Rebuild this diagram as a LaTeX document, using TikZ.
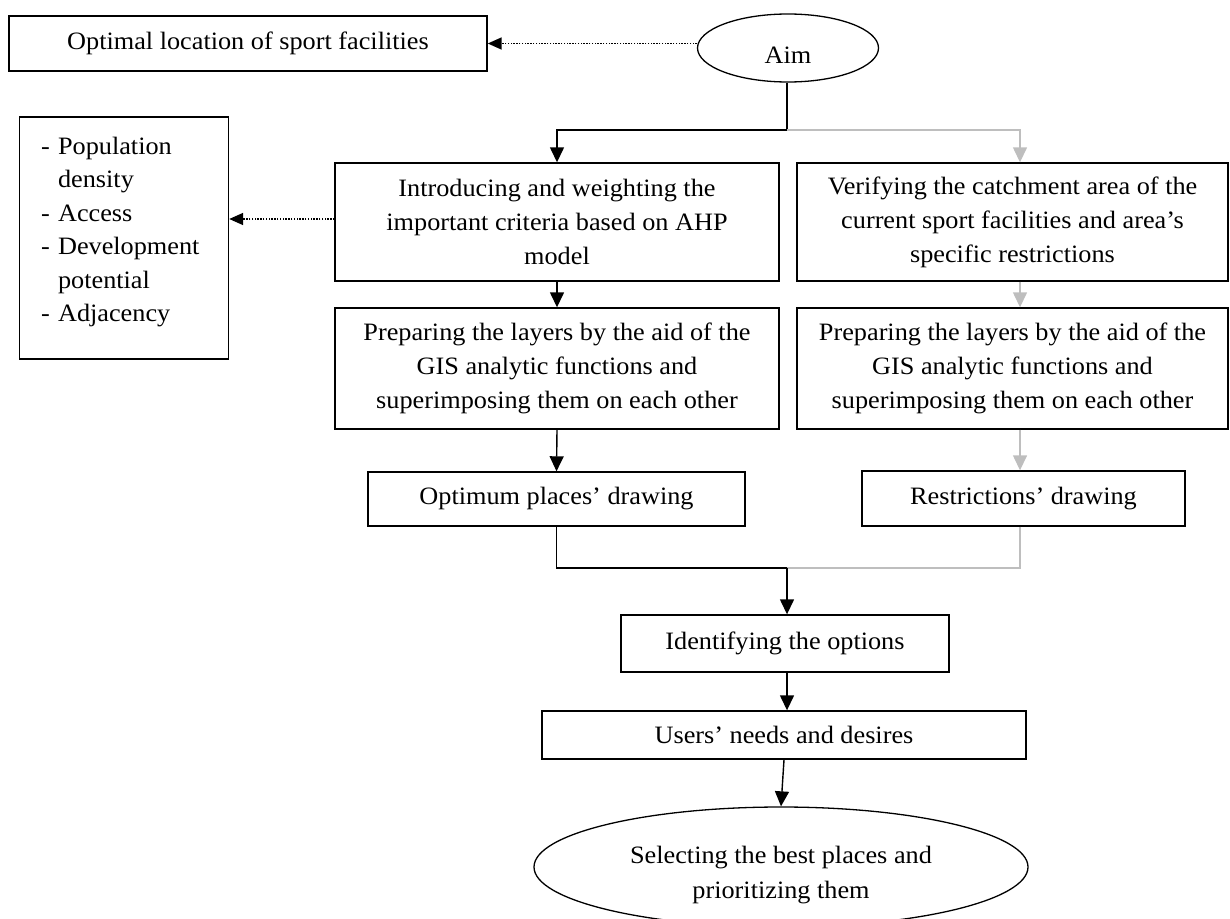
\documentclass[tikz,border=0pt]{standalone}
\usepackage{fontspec}
\setmainfont{Liberation Serif}[FakeStretch=1.05]
\usetikzlibrary{arrows.meta,shapes.geometric}
\definecolor{lgray}{RGB}{190,190,190}
\begin{document}
\begin{tikzpicture}[x=1pt,y=-1pt,
  box/.style={draw, line width=1.4pt, inner sep=0pt, align=center, font=\fontsize{25}{34}\selectfont},
  oval/.style={draw, ellipse, line width=1.3pt, inner sep=0pt, align=center, font=\fontsize{25}{35}\selectfont},
  arr/.style={-{Triangle[length=15pt,width=14pt]}, line width=1.4pt},
  garr/.style={arr, color=lgray},
  dotarr/.style={-{Triangle[length=14pt,width=12pt]}, line width=1.6pt, dash pattern=on 1.4pt off 1.4pt},
  lin/.style={line width=1.4pt}
]
\useasboundingbox (0,0) rectangle (1230,918);
\node[box, minimum width=478, minimum height=55] (opt) at (248,43.5) {Optimal location of sport facilities};
\node[oval, minimum width=181, minimum height=68, text height=31pt, text depth=0pt] (aim) at (788,48) {Aim};
\node[box, minimum width=209, minimum height=242, text width=166, align=left, font=\fontsize{25}{33.5}\selectfont] (list) at (124,238)
 {- Population\\\phantom{- }density\\- Access\\- Development\\\phantom{- }potential\\- Adjacency\rule[-17pt]{0pt}{17pt}};
\node[box, minimum width=444, minimum height=118] (a1) at (557,222) {Introducing and weighting the\\important criteria based on AHP\\model};
\node[box, minimum width=431, minimum height=118] (b1) at (1012.5,222) {Verifying the catchment area of the\\current sport facilities and area’s\\specific restrictions};
\node[box, minimum width=444, minimum height=121] (a2) at (557,368.5) {Preparing the layers by the aid of the\\GIS analytic functions and\\superimposing them on each other};
\node[box, minimum width=431, minimum height=121] (b2) at (1012.5,368.5) {Preparing the layers by the aid of the\\GIS analytic functions and\\superimposing them on each other};
\node[box, minimum width=377, minimum height=54] (a3) at (556.5,499) {Optimum places’ drawing};
\node[box, minimum width=323, minimum height=55] (b3) at (1023.5,498.5) {Restrictions’ drawing};
\node[box, minimum width=328, minimum height=57] (ident) at (785,643.5) {Identifying the options};
\node[box, minimum width=484, minimum height=48] (users) at (784,735) {Users’ needs and desires};
\node[oval, minimum width=494, minimum height=120] (sel) at (781,867) {\rule{0pt}{33pt}Selecting the best places and\\prioritizing them};
\coordinate (split) at (787,130);
\coordinate (merge) at (787,568);
\coordinate (rc) at (1020,0);
\coordinate (dly) at (0,219);
\coordinate (dl) at (a1.west |- dly);
\draw[dotarr] (opt.east -| aim.west) -- (opt.east);
\draw[dotarr] (dl) -- (dl -| list.east);
\draw[lin] (aim.south -| split) -- (split);
\draw[arr] (split) -| (a1.north);
\draw[garr] (split) -| (b1.north -| rc);
\draw[arr] (a1.south) -- (a2.north);
\draw[garr] (b1.south -| rc) -- (b2.north -| rc);
\draw[arr] (a2.south) -- (a3.north);
\draw[garr] (b2.south -| rc) -- (b3.north -| rc);
\draw[lin, color=lgray] (b3.south -| rc) |- (merge);
\draw[lin] (a3.south) |- (merge);
\draw[arr] (merge) -- (ident.north -| merge);
\draw[arr] (ident.south -| merge) -- (users.north -| merge);
\draw[arr] (users.south) -- (sel.north);
\end{tikzpicture}
\end{document}
